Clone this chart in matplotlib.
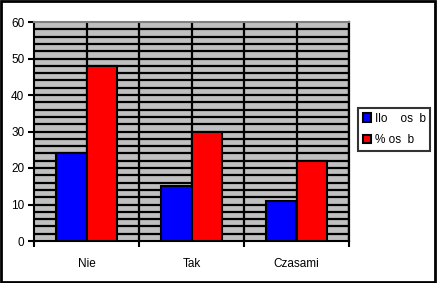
import matplotlib.pyplot as plt
import numpy as np
from matplotlib.patches import Rectangle

# Data.
categories = ['Nie', 'Tak', 'Czasami']
counts = [24, 15, 11]
percents = [48, 30, 22]
series_labels = ['Ilo    os  b', '% os  b']

plt.rcParams['font.family'] = ['Liberation Sans', 'DejaVu Sans']
plt.rcParams['font.size'] = 8.5

W, H = 437, 283
fig = plt.figure(figsize=(W / 100, H / 100), dpi=100)
ax = fig.add_axes([34 / W, (H - 241) / H, (349 - 34) / W, (241 - 22) / H])
ax.set_facecolor('#c0c0c0')

x = np.arange(len(categories))
width = 0.29
ax.bar(x - width / 2, counts, width, color='#0000ff', edgecolor='black',
       linewidth=1.5, label=series_labels[0], zorder=3)
ax.bar(x + width / 2, percents, width, color='#ff0000', edgecolor='black',
       linewidth=1.5, label=series_labels[1], zorder=3)

# Grid: horizontal every 2, vertical every half category.
for yv in range(2, 60, 2):
    ax.axhline(yv, color='black', linewidth=1.6, zorder=1)
for xv in np.arange(0, 2.6, 0.5):
    ax.axvline(xv, color='black', linewidth=1.6, zorder=1)

ax.set_xlim(-0.5, 2.5)
ax.set_ylim(0, 60)
ax.set_yticks(range(0, 61, 10))
ax.set_xticks(x)
ax.set_xticklabels(categories)
ax.set_xticks([-0.5, 0.5, 1.5, 2.5], minor=True)
ax.tick_params(axis='x', which='major', length=0, pad=12)
ax.tick_params(axis='x', which='minor', length=4, width=1.5, direction='out')
ax.tick_params(axis='y', length=4, width=1.5, direction='out', pad=3)

for side in ['left', 'bottom']:
    ax.spines[side].set_linewidth(1.5)
ax.spines['top'].set_color('#808080')
ax.spines['top'].set_linewidth(1.5)
ax.spines['right'].set_linewidth(1.6)

leg = fig.legend(loc='upper left', bbox_to_anchor=(358 / W, 1 - 108 / H),
                 frameon=True, fancybox=False, edgecolor='black',
                 handlelength=0.7, handleheight=0.7, handletextpad=0.3,
                 borderpad=0.4, labelspacing=0.8, borderaxespad=0)
leg.get_frame().set_linewidth(1.5)

# Outer border of the chart area.
fig.patches.append(Rectangle((0.002, 0.004), 0.994, 0.992, transform=fig.transFigure,
                             fill=False, edgecolor='black', linewidth=2))

fig.savefig('out.png', dpi=100)
